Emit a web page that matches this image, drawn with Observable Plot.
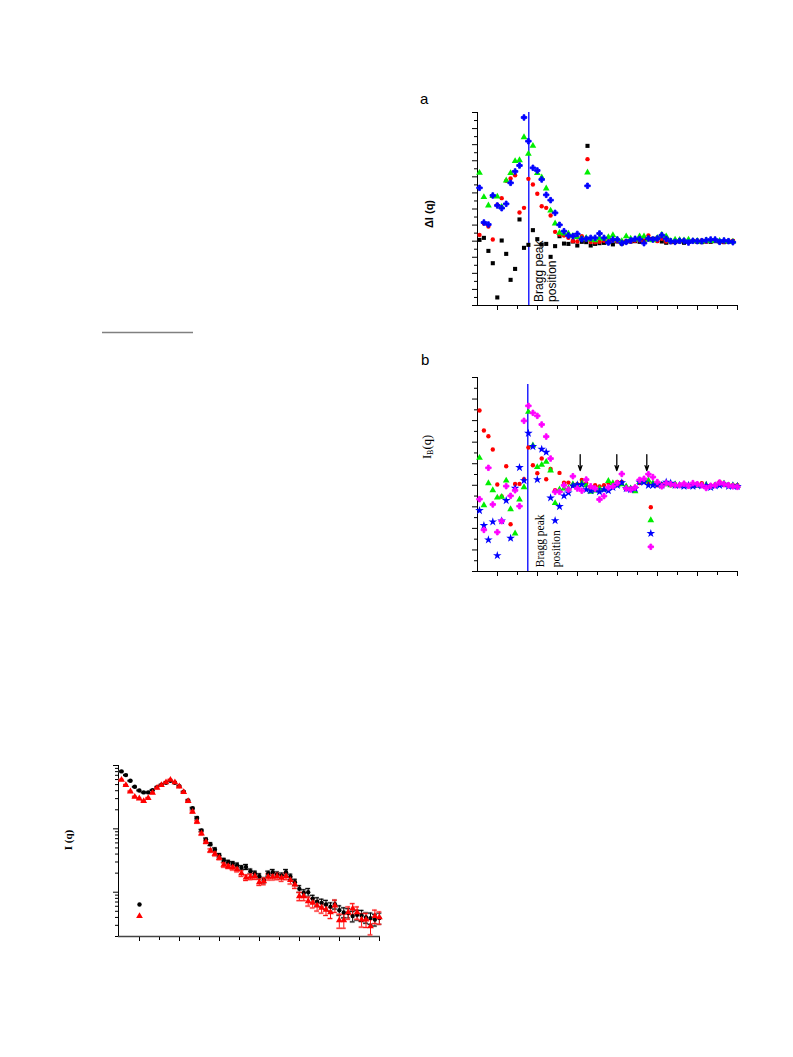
<!DOCTYPE html>
<html><head><meta charset="utf-8">
<script src="https://cdn.jsdelivr.net/npm/d3@7"></script>
<script src="https://cdn.jsdelivr.net/npm/@observablehq/plot@0.6"></script>
<style>
body{margin:0;background:#fff;}
#page{position:relative;width:793px;height:1057px;overflow:hidden;background:#fff;}
#page svg{position:absolute;}
</style></head><body><div id="page"></div>
<script>
// shared q grid (arbitrary q units, axis 0..26)
const Q = [0.20,0.64,1.09,1.53,1.98,2.42,2.87,3.31,3.76,4.20,4.65,5.09,5.54,5.98,6.42,6.87,7.31,7.76,8.20,8.65,
9.09,9.54,9.98,10.43,10.87,11.32,11.76,12.20,12.65,13.09,13.54,13.98,14.43,14.87,15.32,15.76,16.21,16.65,17.09,17.54,
17.98,18.43,18.87,19.32,19.76,20.21,20.65,21.10,21.54,21.98,22.43,22.87,23.32,23.76,24.21,24.65,25.10,25.54,25.99];

// Panel a: ΔI(q)
const aBlack = [8.16,8.41,6.79,5.26,1.0,8.08,6.42,3.19,4.55,10.7,
7.17,7.54,9.37,8.25,7.58,7.66,6.05,7.38,8.62,7.70,
7.66,7.96,7.46,7.92,7.88,7.46,7.66,7.75,7.79,7.83,
7.6,7.96,7.70,7.92,7.96,8.0,7.92,8.08,8.25,8.3,
8.33,7.96,7.8,7.88,7.92,7.96,7.8,7.92,8.0,7.92,
7.88,7.96,7.92,8.0,7.92,7.88,7.92,7.96];
const aRed = [8.78,10.2,9.83,8.2,12.5,13.35,15.5,15.8,16.2,11.57,
12.14,15.75,15.05,13.9,12.35,12.14,11.2,9.16,8.83,8.7,
8.41,8.0,7.95,8.62,8.2,7.9,7.85,7.92,8.05,8.0,
8.1,8.0,7.95,8.0,7.96,8.05,8.1,8.0,8.7,8.2,
8.0,8.3,7.95,7.9,8.0,8.05,8.1,7.95,8.0,8.05,
8.1,7.95,8.0,8.05,7.95,7.9,7.95,8.05];
const aGreen = [16.5,13.47,12.44,13.6,13.55,12.27,15.55,16.46,17.95,18.07,
20.93,18.86,19.85,16.46,15.92,14.55,11.8,10.2,9.03,8.95,
8.95,8.66,8.5,8.3,8.4,8.2,8.1,8.35,8.3,8.5,
8.74,8.2,8.0,8.6,8.3,8.2,8.6,8.6,8.2,8.1,
8.4,8.8,8.6,8.0,8.2,8.15,8.1,8.2,8.0,8.05,
7.95,8.1,8.0,8.1,8.05,8.0,7.95,7.95];
const aBlue = [14.63,10.32,10.07,13.68,12.44,12.1,12.64,15.25,16.67,17.41,
23.38,20.43,17.12,16.79,15.67,13.76,13.1,11.52,10.03,9.24,
8.7,8.62,8.9,8.25,8.29,8.41,8.41,8.95,8.41,7.83,
8.2,8.2,7.75,7.91,8.08,8.29,8.25,7.75,8.33,8.2,
8.33,8.74,8.29,8.0,7.91,8.04,8.04,7.83,8.04,8.0,
8.0,8.12,8.2,8.2,7.91,8.08,8.0,7.87];
const aLegendQ = 11.0;
const aLegendV = [19.85, 18.2, 16.54, 14.88];

// Panel b: I_B(q)
const bRed = [14.94,13.08,12.55,11.32,8.07,6.96,9.77,4.39,8.13,8.13,
8.56,11.5,9.86,9.12,10.48,8.56,9.52,7.54,9.15,8.23,
8.25,8.0,8.1,8.5,8.2,7.8,8.0,7.9,8.0,8.2,
8.1,8.3,8.3,7.8,7.7,7.8,8.2,8.3,8.24,8.1,
8.0,8.1,8.2,8.0,8.1,8.0,8.1,7.9,7.95,8.1,
8.2,7.9,7.95,8.0,8.3,8.1,8.05,8.0,8.0];
const bGreen = [10.54,6.15,8.19,7.54,6.86,6.92,8.44,5.78,3.53,6.68,
7.82,14.81,11.69,9.68,9.9,10.17,9.37,6.34,7.61,7.7,
7.7,8.1,8.0,8.2,8.0,7.4,7.5,7.7,7.6,8.4,
8.2,8.0,8.1,7.9,7.7,7.45,8.3,8.35,8.45,8.2,
8.15,8.0,8.1,8.0,8.1,8.0,8.05,8.0,8.1,7.95,
8.0,8.05,7.9,8.0,8.1,8.15,8.0,8.0,7.95];
const bBlue = [5.66,4.27,2.94,4.61,1.48,4.7,6.59,3.09,7.73,9.65,
8.44,12.83,11.6,8.53,11.35,11.07,6.83,4.73,6.03,7.02,
7.3,7.95,8.05,8.06,7.6,7.5,7.6,7.4,7.6,7.5,
7.8,8.0,8.24,7.7,7.6,7.7,8.3,8.3,8.0,8.0,
8.05,8.0,8.3,8.2,8.0,8.0,7.9,8.0,7.9,8.0,
7.95,8.0,7.8,7.95,8.0,8.1,7.9,7.95,7.9];
const bMagenta = [6.71,3.86,9.62,6.22,3.65,4.67,7.92,7.02,7.54,6.06,
13.98,15.37,14.72,14.44,13.64,12.52,10.48,7.39,7.39,8.0,
7.6,8.84,7.7,7.5,8.53,7.9,7.7,6.68,7.0,7.8,
7.9,8.2,9.05,7.7,7.6,7.8,8.5,8.6,9.03,8.76,
8.3,7.9,8.2,8.1,8.0,8.0,8.15,7.95,8.2,8.1,
8.0,7.75,7.95,8.0,8.25,8.1,8.0,7.9,7.85];
const bLegendQ = 17.33;
const bLegendV = [5.96, 4.76, 3.53, 2.29];
const bArrowQ = [10.27, 13.93, 16.93];
const bArrowFrom = 10.85, bArrowTo = 9.37;

// Panel c: I(q), log scale
const cBlack = [80.7,70.5,57.4,46.1,40.4,37.6,37.6,40.9,45.6,49.6,
53.3,57.4,53.3,47.3,38.5,28.1,21.2,14.9,9.43,6.8,
5.73,4.72,3.84,3.2,2.98,2.84,2.67,2.43,2.51,2.15,
1.97,1.79,1.55,1.97,2.07,1.9,1.84,2.07,1.75,1.44,
1.13,0.975,1.0,0.79,0.71,0.68,0.64,0.59,0.645,0.52,
0.48,0.47,0.42,0.44,0.43,0.40,0.39,0.37,0.39];
const cRed = [59.4,49.0,38.9,32.1,30.2,27.4,30.5,37.0,44.5,49.0,
54.1,59.4,54.1,46.7,38.0,27.4,18.6,12.9,8.45,6.24,
4.55,4.03,3.5,2.7,2.57,2.46,2.3,1.98,1.7,1.75,
1.79,1.44,1.49,1.75,1.75,1.79,1.69,1.79,1.55,1.32,
0.865,0.865,0.72,0.68,0.615,0.57,0.53,0.48,0.615,0.36,
0.36,0.48,0.55,0.48,0.37,0.37,0.29,0.42,0.40];
const cErrBlack = [0.015,0.015,0.015,0.015,0.015,0.015,0.015,0.015,0.015,0.015,
0.015,0.015,0.015,0.02,0.02,0.025,0.03,0.035,0.04,0.05,
0.05,0.06,0.06,0.07,0.07,0.07,0.08,0.08,0.09,0.08,
0.09,0.09,0.1,0.09,0.1,0.1,0.09,0.1,0.1,0.11,
0.12,0.12,0.14,0.13,0.15,0.14,0.16,0.15,0.16,0.17,
0.18,0.17,0.19,0.18,0.2,0.19,0.2,0.21,0.2];
const cErrRed = [0.02,0.02,0.02,0.02,0.02,0.02,0.02,0.02,0.02,0.02,
0.02,0.02,0.02,0.025,0.025,0.03,0.035,0.04,0.05,0.06,
0.06,0.07,0.07,0.08,0.08,0.09,0.09,0.1,0.1,0.1,
0.11,0.11,0.12,0.11,0.11,0.12,0.12,0.12,0.13,0.13,
0.15,0.15,0.16,0.17,0.18,0.18,0.19,0.2,0.22,0.25,
0.25,0.22,0.2,0.22,0.24,0.25,0.27,0.24,0.22];
const cLegendQ = 2.0;
const cLegendV = [0.64, 0.42];

// ticks
const xMajorTicks = [2,6,10,14,18,22,26];
const xMinorTicks = [4,8,12,16,20,24];
const aYMajor = [0,2,4,6,8,10,12,14,16,18,20,22,24];
const aYMinor = [1,3,5,7,9,11,13,15,17,19,21,23];
const bYMajor = [0,2,4,6,8,10,12,14,16,18];
const bYMinor = [1,3,5,7,9,11,13,15,17];
const cYMajor = [1,10,100];
const cYMinor = [0.2,0.3,0.4,0.5,0.6,0.7,0.8,0.9,2,3,4,5,6,7,8,9,20,30,40,50,60,70,80,90];

// annotations
const braggA = {q: 5.13, top: 24};
const braggB = {q: 5.03, top: 17.35};
const braggTextA = {q: 5.6, v: 0.45, label: "Bragg peak\nposition"};
const braggTextB = {q: 5.58, v: 0.4, label: "Bragg peak\nposition"};

const rows = (vals) => vals.map((v, i) => ({q: Q[i], v}));
const noLbl = () => "";
const sans = "'Liberation Sans', Arial, sans-serif";
const serif = "'Liberation Serif', 'Times New Roman', serif";

function axes(yMaj, yMin, xTickMajor, xTickMinor) {
  return [
    Plot.axisX(xMajorTicks, {tickSize: xTickMajor, tickFormat: noLbl, label: null, strokeWidth: 1}),
    Plot.axisX(xMinorTicks, {tickSize: xTickMinor, tickFormat: noLbl, label: null, strokeWidth: 1}),
    Plot.axisY(yMaj, {tickSize: 5, tickFormat: noLbl, label: null, strokeWidth: 1}),
    Plot.axisY(yMin, {tickSize: 3, tickFormat: noLbl, label: null, strokeWidth: 1})
  ];
}

const page = document.getElementById("page");
function place(svg, left, top) {
  svg.style.left = left + "px";
  svg.style.top = top + "px";
  svg.style.background = "transparent";
  svg.style.maxWidth = "none";
  page.appendChild(svg);
}
// chunky filled plus markers get a thin outline in their own colour
const dotMark = (data, s) => Plot.dot(data, {x: "q", y: "v", symbol: s.symbol, fill: s.color, r: s.r,
  stroke: s.symbol === "cross" ? s.color : "none", strokeWidth: s.symbol === "cross" ? 0.9 : 0});

// ---- Panel a ----
const serA = [
  {vals: aBlack, symbol: "square", color: "#000000", r: 2.3},
  {vals: aRed, symbol: "circle", color: "#ff0000", r: 2.2},
  {vals: aGreen, symbol: "triangle", color: "#00ee00", r: 2.5},
  {vals: aBlue, symbol: "cross", color: "#0000ff", r: 2.3}
];
const plotA = Plot.plot({
  width: 280, height: 215, marginLeft: 10, marginRight: 10, marginTop: 12, marginBottom: 10,
  x: {domain: [0, 26]}, y: {domain: [0, 24]},
  style: {background: "transparent", color: "#000"},
  marks: [
    ...axes(aYMajor, aYMinor, 5, 4),
    Plot.ruleY([0], {stroke: "#000"}),
    Plot.ruleX([0], {stroke: "#000"}),
    Plot.ruleX([braggA], {x: "q", y1: 0, y2: "top", stroke: "#0000ff", strokeWidth: 1.3}),
    Plot.text([braggTextA], {x: "q", y: "v", text: "label", rotate: -90, textAnchor: "start", lineAnchor: "top",
      lineHeight: 1.1, fontSize: 12, fontFamily: sans, fill: "#000"}),
    ...serA.map(s => dotMark(rows(s.vals), s)),
    ...serA.map((s, k) => dotMark([{q: aLegendQ, v: aLegendV[k]}], s))
  ]
});
place(plotA, 467, 100);

// ---- Panel b ----
const serB = [
  {vals: bRed, symbol: "circle", color: "#ff0000", r: 2.2},
  {vals: bGreen, symbol: "triangle", color: "#00ee00", r: 2.5},
  {vals: bBlue, symbol: "star", color: "#0000ff", r: 2.7},
  {vals: bMagenta, symbol: "cross", color: "#ff00ff", r: 2.3}
];
const plotB = Plot.plot({
  width: 280, height: 214, marginLeft: 10, marginRight: 10, marginTop: 10, marginBottom: 10,
  x: {domain: [0, 26]}, y: {domain: [0, 18]},
  style: {background: "transparent", color: "#000"},
  marks: [
    ...axes(bYMajor, bYMinor, 5, 4),
    Plot.ruleY([0], {stroke: "#000"}),
    Plot.ruleX([0], {stroke: "#000"}),
    Plot.ruleX([braggB], {x: "q", y1: 0, y2: "top", stroke: "#0000ff", strokeWidth: 1.3}),
    Plot.text([braggTextB], {x: "q", y: "v", text: "label", rotate: -90, textAnchor: "start", lineAnchor: "top",
      lineHeight: 1.34, fontSize: 11.5, fontFamily: serif, fill: "#000"}),
    Plot.arrow(bArrowQ, {x1: d => d, x2: d => d, y1: () => bArrowFrom, y2: () => bArrowTo,
      stroke: "#000", strokeWidth: 1.3, headLength: 6, headAngle: 40}),
    ...serB.map(s => dotMark(rows(s.vals), s)),
    ...serB.map((s, k) => dotMark([{q: bLegendQ, v: bLegendV[k]}], s))
  ]
});
place(plotB, 467, 367);

// ---- Panel c ----
const withErr = (vals, errs) => vals.map((v, i) => ({q: Q[i], v, lo: v * (1 - errs[i]), hi: v * (1 + errs[i])}));
const cB = withErr(cBlack, cErrBlack);
const cR = withErr(cRed, cErrRed);
const cap = 0.24;
function errMarks(data, color, halo) {
  return [
    Plot.ruleY(data, {y: "lo", x1: d => d.q - cap, x2: d => d.q + cap, stroke: halo, strokeWidth: 2.5, strokeOpacity: 0.6}),
    Plot.ruleY(data, {y: "hi", x1: d => d.q - cap, x2: d => d.q + cap, stroke: halo, strokeWidth: 2.5, strokeOpacity: 0.6}),
    Plot.ruleX(data, {x: "q", y1: "lo", y2: "hi", stroke: color, strokeWidth: 1}),
    Plot.ruleY(data, {y: "lo", x1: d => d.q - cap, x2: d => d.q + cap, stroke: color, strokeWidth: 1}),
    Plot.ruleY(data, {y: "hi", x1: d => d.q - cap, x2: d => d.q + cap, stroke: color, strokeWidth: 1})
  ];
}
const plotC = Plot.plot({
  width: 292, height: 193, marginLeft: 20, marginRight: 10, marginTop: 10, marginBottom: 12,
  x: {domain: [-0.1, 26.1]}, y: {type: "log", domain: [0.2, 100]},
  style: {background: "transparent", color: "#000"},
  marks: [
    ...axes(cYMajor, cYMinor, 5, 4),
    Plot.ruleY([0.2], {stroke: "#444", strokeWidth: 1.6}),
    Plot.ruleX([-0.1], {stroke: "#000"}),
    ...errMarks(cB, "#000000", "#9a9a9a"),
    ...errMarks(cR, "#ff1010", "#ff9a9a"),
    Plot.dot(cB, {x: "q", y: "v", symbol: "circle", fill: "#000", r: 2.2}),
    Plot.dot(cR, {x: "q", y: "v", symbol: "triangle", fill: "#ff0000", r: 2.5}),
    Plot.dot([{q: cLegendQ, v: cLegendV[0]}], {x: "q", y: "v", symbol: "circle", fill: "#000", r: 2.2}),
    Plot.dot([{q: cLegendQ, v: cLegendV[1]}], {x: "q", y: "v", symbol: "triangle", fill: "#ff0000", r: 2.5})
  ]
});
place(plotC, 98, 755);

// ---- free text overlay ----
const ns = "http://www.w3.org/2000/svg";
const ov = document.createElementNS(ns, "svg");
ov.setAttribute("width", 793); ov.setAttribute("height", 1057);
ov.style.left = "0px"; ov.style.top = "0px"; ov.style.pointerEvents = "none";
ov.innerHTML = `
<line x1="102" y1="332.5" x2="193" y2="332.5" stroke="#808080" stroke-width="1.3"/>
<text x="420" y="103.5" font-family="${sans}" font-size="15">a</text>
<text x="421" y="365" font-family="${sans}" font-size="15">b</text>
<text transform="translate(429,214) rotate(-90)" text-anchor="middle" dominant-baseline="central" font-family="${sans}" font-size="11" font-weight="bold">ΔI (q)</text>
<text transform="translate(427,447) rotate(-90)" text-anchor="middle" dominant-baseline="central" font-family="${serif}" font-size="12.5">I<tspan font-size="8" dy="3">B</tspan><tspan dy="-3">(q)</tspan></text>
<text transform="translate(68,840) rotate(-90)" text-anchor="middle" dominant-baseline="central" font-family="${serif}" font-size="11" font-weight="bold">I (q)</text>
`;
page.appendChild(ov);
</script>
</body></html>
